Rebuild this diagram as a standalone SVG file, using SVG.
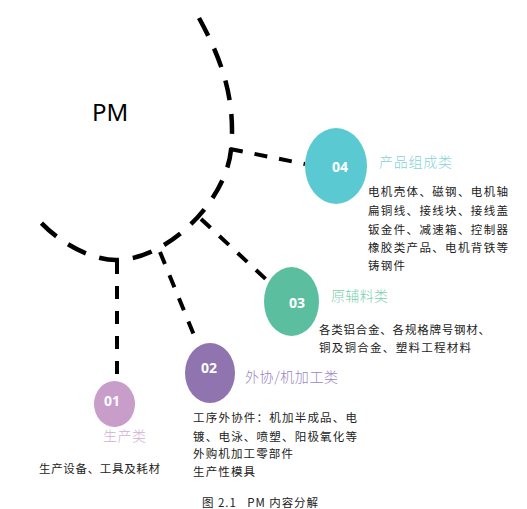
<svg xmlns="http://www.w3.org/2000/svg" width="527" height="509" viewBox="0 0 527 509">
<style>
.arc{fill:none;stroke:#000;stroke-width:4.5;stroke-dasharray:20 14}
.br{fill:none;stroke:#000;stroke-width:4;stroke-dasharray:13 12}
.num{font-family:"Open Sans","DejaVu Sans",sans-serif;font-weight:bold;font-size:14px;fill:#fff;text-anchor:middle}
.ttl{font-family:"Noto Sans CJK SC",sans-serif;font-size:14px;font-weight:300}
.body{font-family:"Noto Sans CJK SC",sans-serif;font-size:11.5px;fill:#222}
</style>
<rect width="527" height="509" fill="#fff"/>
<text x="92" y="121" font-family="Noto Sans, DejaVu Sans, sans-serif" font-size="24" fill="#000">PM</text>
<g id="connectors">
<path class="arc" d="M199,18 C222,60 236,100 231,150 C226,200 170,258 118,260 C90,261 55,240 36,217"/>
<path class="br" d="M230,149 L305,164"/>
<path class="br" d="M201,219 L270,283"/>
<path class="br" d="M160,252 L196,340"/>
<path class="br" d="M117,261 L117,378"/>
</g>
<g id="n04">
<ellipse cx="336" cy="166" rx="31" ry="38" fill="#5bc9d2"/>
<text class="num" x="340" y="172">04</text>
<text class="ttl" x="379" y="167" fill="#86d3da" textLength="73" lengthAdjust="spacing">产品组成类</text>
<text class="body" x="368" y="196" textLength="140" lengthAdjust="spacing">电机壳体、磁钢、电机轴</text>
<text class="body" x="368" y="214.5" textLength="140" lengthAdjust="spacing">扁铜线、接线块、接线盖</text>
<text class="body" x="368" y="233.5" textLength="140" lengthAdjust="spacing">钣金件、减速箱、控制器</text>
<text class="body" x="368" y="252" textLength="140" lengthAdjust="spacing">橡胶类产品、电机背铁等</text>
<text class="body" x="368" y="270" textLength="37" lengthAdjust="spacing">铸钢件</text>
</g>
<g id="n03">
<ellipse cx="291.5" cy="301.5" rx="27.5" ry="34.5" fill="#5bbf9f"/>
<text class="num" x="297" y="308">03</text>
<text class="ttl" x="331" y="301" fill="#7ccfb0" textLength="57" lengthAdjust="spacing">原辅料类</text>
<text class="body" x="319" y="333.5" textLength="171" lengthAdjust="spacing">各类铝合金、各规格牌号钢材、</text>
<text class="body" x="319" y="351.5" textLength="152" lengthAdjust="spacing">铜及铜合金、塑料工程材料</text>
</g>
<g id="n02">
<ellipse cx="210" cy="373" rx="25" ry="30" fill="#8f74b0"/>
<text class="num" x="209" y="373">02</text>
<text class="ttl" x="245" y="382" fill="#9a85c0" textLength="93" lengthAdjust="spacing">外协/机加工类</text>
<text class="body" x="193" y="421.5" textLength="164" lengthAdjust="spacing">工序外协件：机加半成品、电</text>
<text class="body" x="193" y="440.5" textLength="164" lengthAdjust="spacing">镀、电泳、喷塑、阳极氧化等</text>
<text class="body" x="193" y="457.5" textLength="100" lengthAdjust="spacing">外购机加工零部件</text>
<text class="body" x="193" y="475.5" textLength="62" lengthAdjust="spacing">生产性模具</text>
</g>
<g id="n01">
<ellipse cx="114.5" cy="404" rx="20.5" ry="23" fill="#c99dca"/>
<text class="num" x="112" y="406">01</text>
<text class="ttl" x="103" y="441" fill="#d4aed6" textLength="43" lengthAdjust="spacing">生产类</text>
<text class="body" x="39" y="472.5" textLength="121" lengthAdjust="spacing">生产设备、工具及耗材</text>
</g>
<text class="body" x="202" y="507" textLength="116" lengthAdjust="spacing" xml:space="preserve" style="white-space:pre">图 2.1   PM 内容分解</text>
</svg>
